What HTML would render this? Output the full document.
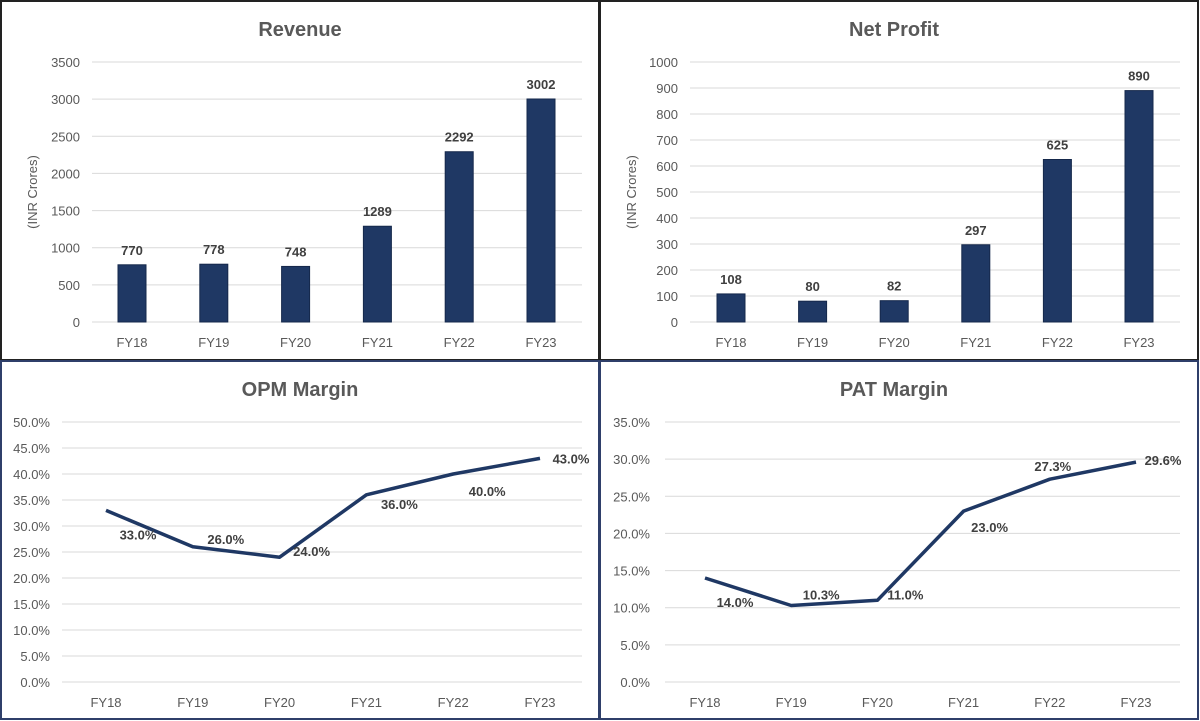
<!DOCTYPE html>
<html><head><meta charset="utf-8"><style>
body{margin:0;width:1200px;height:721px;background:#fff;font-family:"Liberation Sans",sans-serif;overflow:hidden}
svg{display:block}
text{font-family:"Liberation Sans",sans-serif}
</style></head><body>
<svg width="1200" height="721">
<g id="root"></g>
<rect x="1" y="1" width="598" height="359" fill="none" stroke="#222" stroke-width="2"/>
<rect x="600" y="1" width="598" height="359" fill="none" stroke="#222" stroke-width="2"/>
<rect x="1" y="361" width="598" height="358" fill="none" stroke="#2f3f6a" stroke-width="2"/>
<rect x="600" y="361" width="598" height="358" fill="none" stroke="#2f3f6a" stroke-width="2"/>
</svg>
<script>
const categories=["FY18","FY19","FY20","FY21","FY22","FY23"];
const revenueValues=[770,778,748,1289,2292,3002];
const revenueTicks=[0,500,1000,1500,2000,2500,3000,3500];
const profitValues=[108,80,82,297,625,890];
const profitTicks=[0,100,200,300,400,500,600,700,800,900,1000];
const opmValues=[33.0,26.0,24.0,36.0,40.0,43.0];
const opmTicks=[0,5,10,15,20,25,30,35,40,45,50];
const patValues=[14.0,10.3,11.0,23.0,27.3,29.6];
const patTicks=[0,5,10,15,20,25,30,35];

const NS="http://www.w3.org/2000/svg";
const root=document.getElementById('root');
function mk(tag,attrs,parent,txt){const e=document.createElementNS(NS,tag);for(const k in attrs)e.setAttribute(k,attrs[k]);if(txt!==undefined)e.textContent=txt;(parent||root).appendChild(e);return e;}
const GREY="#595959",NAVY="#1f3864";

function panel(cfg){
  const g=mk('g',{});
  
  
  const maxT=cfg.ticks[cfg.ticks.length-1];
  const y=v=>cfg.y0-(v/maxT)*(cfg.y0-cfg.y1);
  const x=i=>cfg.x0+i*cfg.dx;
  const t=mk('text',{x:cfg.tx,y:cfg.ty,'text-anchor':'middle','font-size':20,'font-weight':'bold',fill:GREY},g,cfg.title);
  
  
  cfg.ticks.forEach(v=>{
    const l=mk('line',{x1:cfg.gx0,x2:cfg.gx1,y1:y(v),y2:y(v),stroke:'#d9d9d9','stroke-width':1},g);
    
    
    const tl=mk('text',{x:cfg.lx,y:y(v)+5,'text-anchor':'end','font-size':13,fill:GREY},g,cfg.pct?v.toFixed(1)+'%':v);
    
    
  });
  categories.forEach((c,i)=>{
    const tl=mk('text',{x:x(i),y:cfg.y0+25,'text-anchor':'middle','font-size':13,fill:GREY},g,c);
    
    
  });
  if(cfg.ytitle){
    const yt=mk('text',{transform:`translate(${cfg.ytx},${(cfg.y0+cfg.y1)/2}) rotate(-90)`,'text-anchor':'middle','font-size':13,fill:GREY},g,cfg.ytitle);
    
    
  }
  if(cfg.type==='bar'){
    cfg.values.forEach((v,i)=>{
      const b=mk('rect',{x:x(i)-14,y:y(v),width:28,height:cfg.y0-y(v),fill:NAVY,stroke:'#15284b','stroke-width':1},g);
      
      
      const lb=mk('text',{x:x(i),y:y(v)-10,'text-anchor':'middle','font-size':13,'font-weight':'bold',fill:'#404040'},g,v);
      
      
    });
  } else {
    const pts=cfg.values.map((v,i)=>x(i)+','+y(v)).join(' ');
    const pl=mk('polyline',{points:pts,fill:'none',stroke:NAVY,'stroke-width':3.5,'stroke-linejoin':'round'},g);
    
    
    cfg.values.forEach((v,i)=>{
      const o=cfg.off[i];
      const lb=mk('text',{x:x(i)+o[0],y:y(v)+o[1],'text-anchor':'middle','font-size':13,'font-weight':'bold',fill:'#404040'},g,v.toFixed(1)+'%');
      
      
    });
  }
}
panel({name:'revenue',title:'Revenue',tx:300,ty:36,x0:132,dx:81.8,y0:322,y1:62,gx0:92,gx1:582,lx:80,ticks:revenueTicks,values:revenueValues,type:'bar',ytitle:'(INR Crores)',ytx:37});
panel({name:'net-profit',title:'Net Profit',tx:894,ty:36,x0:731,dx:81.6,y0:322,y1:62,gx0:690,gx1:1180,lx:678,ticks:profitTicks,values:profitValues,type:'bar',ytitle:'(INR Crores)',ytx:636});
panel({name:'opm-margin',title:'OPM Margin',tx:300,ty:396,x0:106,dx:86.8,y0:682,y1:422,gx0:62,gx1:582,lx:50,ticks:opmTicks,values:opmValues,type:'line',pct:true,off:[[32,29],[33,-3],[32,-1],[33,14],[34,22],[31,5]]});
panel({name:'pat-margin',title:'PAT Margin',tx:894,ty:396,x0:705,dx:86.2,y0:682,y1:422,gx0:665,gx1:1180,lx:650,ticks:patTicks,values:patValues,type:'line',pct:true,off:[[30,29],[30,-6],[28,-1],[26,21],[3,-8],[27,3]]});
</script>
</body></html>
